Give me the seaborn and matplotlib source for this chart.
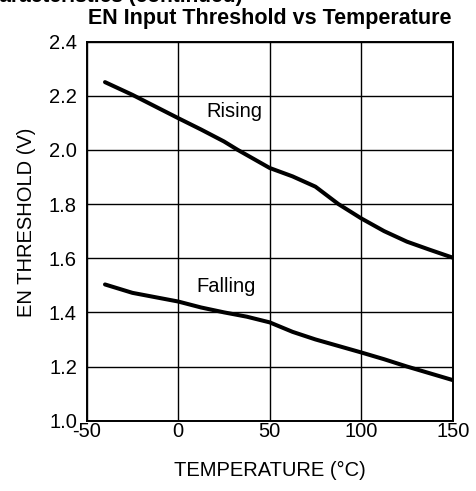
import matplotlib
matplotlib.use("Agg")
import matplotlib.pyplot as plt
import seaborn as sns
import pandas as pd

# Data
rising_temp = [-40, -25, 0, 12.5, 25, 32.5, 50, 62.5, 75, 87.5, 100, 112.5, 125, 137.5, 150]
rising_v = [2.250, 2.203, 2.117, 2.075, 2.031, 2.000, 1.933, 1.902, 1.864, 1.800, 1.747, 1.700, 1.661, 1.631, 1.602]
falling_temp = [-40, -25, 0, 12.5, 25, 37.5, 50, 62.5, 75, 87.5, 100, 112.5, 125, 137.5, 150]
falling_v = [1.503, 1.472, 1.440, 1.418, 1.400, 1.384, 1.363, 1.328, 1.300, 1.276, 1.252, 1.227, 1.200, 1.175, 1.150]

x_ticks = [-50, 0, 50, 100, 150]
y_ticks = [1.0, 1.2, 1.4, 1.6, 1.8, 2.0, 2.2, 2.4]
title = "EN Input Threshold vs Temperature"
x_label = "TEMPERATURE (°C)"
y_label = "EN THRESHOLD (V)"
header = "Typical Characteristics (continued)"

df = pd.concat([
    pd.DataFrame({"temp": rising_temp, "v": rising_v, "edge": "Rising"}),
    pd.DataFrame({"temp": falling_temp, "v": falling_v, "edge": "Falling"}),
])

sns.set_style("white")
plt.rcParams["font.family"] = ["Liberation Sans", "DejaVu Sans"]

fig = plt.figure(figsize=(4.76, 4.91), dpi=100)
ax = fig.add_axes([86.7 / 476, 1 - 420.7 / 491, (452.7 - 86.7) / 476, (420.7 - 41.5) / 491])

sns.lineplot(data=df, x="temp", y="v", hue="edge", palette={"Rising": "black", "Falling": "black"},
             estimator=None, sort=True, linewidth=2.9, legend=False, ax=ax, zorder=3)

ax.set_xlim(-50, 150)
ax.set_ylim(1.0, 2.4)
ax.set_xticks(x_ticks)
ax.set_xticklabels([str(t) for t in x_ticks])
ax.set_yticks(y_ticks)
ax.set_yticklabels([f"{t:.1f}" for t in y_ticks])
ax.grid(True, color="black", linewidth=1.0)
ax.tick_params(axis="both", length=0, labelsize=14.5, colors="black")
ax.tick_params(axis="y", pad=7.0)
ax.tick_params(axis="x", pad=1.0)
for s in ax.spines.values():
    s.set_color("black")
    s.set_linewidth(1.4)
    s.set_visible(True)

ax.set_xlabel(x_label, fontsize=14.5, color="black")
ax.set_ylabel(y_label, fontsize=14.5, color="black")
ax.xaxis.set_label_coords(0.5, -0.105)
ax.xaxis.label.set_va("top")
ax.yaxis.set_label_coords((36 - 86.7) / 366, (420.7 - 222) / 379.2)

ax.set_title(title, fontsize=15.5, fontweight="bold", pad=12.6, color="black")

ax.text(46.2, 2.1225, "Rising", fontsize=14.5, ha="right", va="baseline", color="black")
ax.text(42.5, 1.476, "Falling", fontsize=14.5, ha="right", va="baseline", color="black")

fig.text(243 / 476, 1 - 2.5 / 491, header, fontsize=15, fontweight="bold", ha="right", va="baseline", color="black")

fig.savefig("out.png", dpi=100, facecolor="white")
